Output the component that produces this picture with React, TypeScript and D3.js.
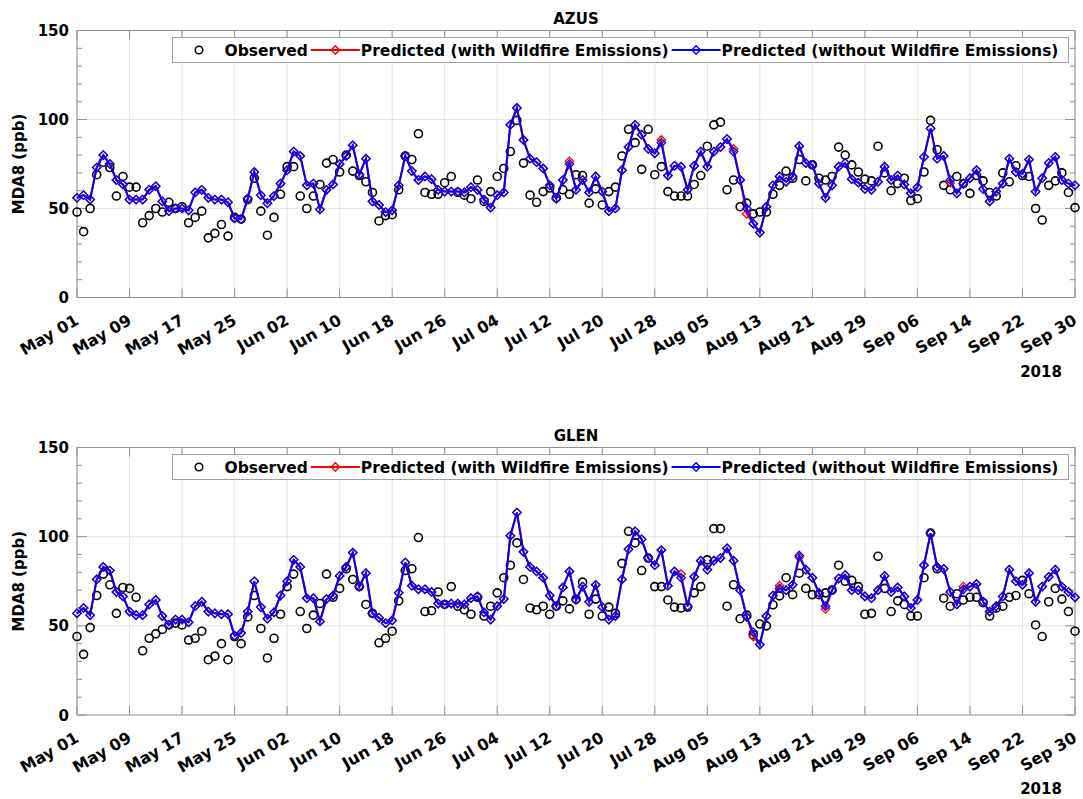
import React from 'react';
import * as d3 from 'd3';

// ---------- data ----------
const startDate = new Date(2018, 4, 1);
const endDate = new Date(2018, 8, 30);
const dates: Date[] = d3.timeDay.range(startDate, d3.timeDay.offset(endDate, 1));
const tickDayIdx = d3.range(0, 153, 8);
const yTicks = [0, 50, 100, 150];
const yearLabel = '2018';
const legendLabels = ['Observed', 'Predicted (with Wildfire Emissions)', 'Predicted (without Wildfire Emissions)'];
const yLabel = 'MDA8 (ppb)';

const azusObs = [48,37,50,69,76,73,57,68,62,62,42,46,50,48,53.5,50,51,42,45,48.5,33.5,36,41,34.5,45,44,55,67,48.5,35,
45,58,73.5,73.5,57,50,57,63.5,75.5,77.5,70.5,80,71,68.5,65,59,43,46,46.5,60.5,79.5,77.5,92,59,58,58,64.5,68,59,57.5,
55.5,66,54,59.5,68,72.5,82,99.5,75.5,57.5,53.5,59.5,61.5,56,60.5,58,69,68.5,53,61,52,59.5,62,79.5,94.5,87,72,94.5,69,73.5,
59.5,57,57,57,63.5,68.5,85,97,98.5,60.5,66,51,53,47,48,48,58,63,71,67,77.5,65.5,74.5,67,66,68,84.5,80,74.5,70.5,
66.5,65.5,85,70,60,64,67,54.5,55.5,70.5,99.5,83,63,60.5,68,64,58.5,68.5,65.5,59,57,70,65,74,68.5,68,50,43.5,63,65.5,
70,59,50.5];
const azusNoFire = [56,57.5,55,73,80,75,66,63.5,55,55,55,60.5,62.5,54,48.5,50,50,49,59,60.5,56,55,55,53.5,44.5,44,55.5,70.5,57.5,53,
57,64,71.5,82,79.5,63,64,49.5,60.5,63.5,75,79.5,85.5,69,78,54,52,48,49,63,79.5,71,66,68,66.5,60.5,59.5,59.5,59.5,59,
62,60.5,55,50.5,57.5,59,97,106.5,88.5,78,76,72.5,63,55.5,66,75,60.5,66,59,68,59.5,48.5,50,71.5,84.5,97,91.5,83.5,81,87,
68.5,74,73.5,60.5,74,82,73.5,82,84.5,89,82,66,50,41.5,36.5,51,63,68,65,68,85,75.5,74.5,64,56,63,73.5,75.5,66.5,64.5,
61,60.5,65,73.5,66,68.5,63.5,58.5,62,79,95,78,79.5,66,58.5,64,67,71.5,61,54,59.5,64,78,70.5,69.5,77.5,59.5,67,75.5,79,
66,64,63];
const azusWithFire = [56,57.5,55,73,80,75,66,63.5,55,55,55,60.5,62.5,54,48.5,50,50,49,59,60.5,56,55,55,53.5,44.5,44,55.5,70.5,57.5,53,
57,64,71.5,82,79.5,63,64,49.5,60.5,63.5,75,79.5,85.5,69,78,54,52,48,49,63,79.5,71,66,68,66.5,60.5,59.5,59.5,59.5,59,
62,60.5,55,50.5,57.5,59,97,106.5,88.5,78,76,72.5,63,55.5,66,76.5,60.5,66,59,68,59.5,48.5,50,71.5,84.5,97,91.5,83.5,81,88.5,
68.5,74,73.5,60.5,74,82,73.5,82,84.5,89,83.5,66,47,41.5,36.5,51,63,68,65,68,85,75.5,74.5,64,56,63,73.5,75.5,66.5,64.5,
61,60.5,65,73.5,66,68.5,63.5,58.5,62,79,95,78,79.5,64.5,58.5,64,67,71.5,61,54,59.5,64,78,70.5,69.5,77.5,59.5,67,75.5,79,
66,64,63];

const glenObs = [44,34,49,67,79,73,57,71.5,71,66,36,43,45.5,48,50.5,51.5,50.5,42,43,47,31,33,40,31,44,40,55,67,48.5,32,
43,56.5,72,79,58,48.5,56,62.5,79,66,71,82,76,72,62,57,40.5,43,47,64,81,82,99.5,58,58.5,69,62,72,61,59,
56.5,66,55.5,61,68.5,77,84,96.5,76,60,59,61,56.5,61,64,59.5,65,74.5,56.5,65,55.5,60.5,57,85,103,96.5,81,88,72,72,
64.5,60.5,60,60.5,68.5,72,87,104.5,104.5,61,73,54,56,45,51,50,61.8,66.8,77,67.5,79.5,71,67.5,67.5,68.5,70,84,75,75.5,72,
56.5,57,89,71,58,64,62,55.5,55.5,77,102,82,65.5,61,68,64.5,66,66,63,55.5,60,61,66,67,75.5,68,50.5,44,63.5,71,
65,58,47];
const glenNoFire = [57,60,56,76,83,81,69,66.5,58,56,56,62,64.5,55.5,50.5,53.5,53.5,52,61,63.5,58,57,56.5,56.5,44.5,46,58,75,60.5,54,
57.5,67,75,87,83,65.5,65.5,52.5,65,67,78,83,91,72,79.5,57,54.5,51.5,53,68.5,85.5,72.5,70.5,70.5,69,62.5,62,62.5,62.5,62,
65.5,66.5,57.5,53.5,61,65,100.5,113.5,91.5,83,80.5,77,67,61,71.5,80.5,64.5,72,63.5,73,60.5,53.5,55.5,76,93,103,98.5,88,84,92.5,
72.5,80.5,77,61,77.5,86.5,81.5,86.5,88,93.5,86.5,70,55,46.5,39.5,55.5,67,71,70,73,89.5,81.5,77,68.5,61,70,76.5,78.5,70,70,
66.5,65.5,70,78,69,71.5,66.5,60,64.5,84,102,83,82,69,62,70.5,72,73.5,63.5,58,61,66.5,81.5,75,73,79.5,63.5,72,77.5,81.5,
72,69,66];
const glenWithFire = [57,60,56,76,83,81,69,66.5,58,56,56,62,64.5,55.5,50.5,53.5,53.5,52,61,63.5,58,57,56.5,56.5,44.5,46,58,75,60.5,54,
57.5,67,75,87,83,65.5,65.5,52.5,65,67,78,83,91,72,79.5,57,54.5,51.5,53,68.5,85.5,72.5,70.5,70.5,69,62.5,62,62.5,62.5,62,
65.5,66.5,57.5,53.5,61,65,100.5,113.5,91.5,83,80.5,77,67,61,71.5,80.5,64.5,72,63.5,73,60.5,53.5,55.5,76,93,103,98.5,88,84,92.5,
72.5,80.5,79,61,77.5,86.5,81.5,86.5,88,93.5,86.5,70,55,44,39.5,55.5,67,72.5,70,73,88.5,81.5,77,68.5,59.5,70,76.5,78.5,70,70,
66.5,65.5,70,78,69,71.5,66.5,60,64.5,84,102,83,82,69,62,72,72,73.5,63.5,58,61,66.5,81.5,75,73,79.5,63.5,72,77.5,81.5,
72,69,66];

const stations = ['AZUS', 'GLEN'];

// ---------- layout ----------
const W = 1083;
const H = 799;
const X0 = 77;
const X1 = 1075;
const FONT = '"DejaVu Sans", sans-serif';
const AXIS_COLOR = '#8f8f8f';
const GRID_COLOR = '#e6e6e6';

const panels = [
  { title: stations[0], obs: azusObs, fire: azusWithFire, noFire: azusNoFire, top: 30.5, bottom: 297.5 },
  { title: stations[1], obs: glenObs, fire: glenWithFire, noFire: glenNoFire, top: 447.5, bottom: 715 },
];

let ctx: CanvasRenderingContext2D | null = null;
function textWidth(t: string, size: number) {
  if (!ctx) ctx = document.createElement('canvas').getContext('2d');
  if (!ctx) return t.length * size * 0.65;
  ctx.font = `bold ${size}px "DejaVu Sans"`;
  return ctx.measureText(t).width;
}

function diamondPath(cx: number, cy: number, r = 4.2) {
  return `M${cx},${cy - r}L${cx + r},${cy}L${cx},${cy + r}L${cx - r},${cy}Z`;
}

function Legend({ top }: { top: number }) {
  const fs = 15.5;
  const left = 172.5;
  const h = 25;
  const cy = top + h / 2;
  const items: React.ReactNode[] = [];
  let s = left + 2;
  legendLabels.forEach((lab, i) => {
    const mx = s + 24.5;
    if (i === 0) {
      items.push(<circle key={'m' + i} cx={mx} cy={cy} r={3.8} fill="none" stroke="#000" strokeWidth={1.5} />);
    } else {
      const col = i === 1 ? '#ff0000' : '#0000ff';
      items.push(
        <g key={'m' + i}>
          <line x1={s} x2={s + 49} y1={cy} y2={cy} stroke={col} strokeWidth={2} />
          <path d={diamondPath(mx, cy)} fill="none" stroke={col} strokeWidth={1.4} />
        </g>
      );
    }
    const tx = s + 50;
    items.push(
      <text key={'t' + i} x={tx} y={cy + 5.5} fontSize={fs} fontWeight="bold" fontFamily={FONT} fill="#000">
        {lab}
      </text>
    );
    s = tx + textWidth(lab, fs) + 3;
  });
  const right = s + 7;
  return (
    <g>
      <rect x={left} y={top} width={right - left} height={h} fill="#fff" stroke="#a0a0a0" strokeWidth={1} />
      {items}
    </g>
  );
}

function Panel({ p }: { p: (typeof panels)[number] }) {
  const x = d3.scaleTime().domain([startDate, endDate]).range([X0, X1]);
  const y = d3.scaleLinear().domain([0, 150]).range([p.bottom, p.top]);
  const line = d3
    .line<number>()
    .x((_, i) => x(dates[i]))
    .y((v) => y(v));
  const tickDates = tickDayIdx.map((i) => dates[i]);
  const fmt = d3.timeFormat('%b %d');
  const minor = d3.range(0, 151, 10);
  const cx = (X0 + X1) / 2;
  const cyMid = (p.top + p.bottom) / 2;
  return (
    <g>
      {/* grid */}
      {tickDates.map((d, i) => (
        <line key={'gx' + i} x1={x(d)} x2={x(d)} y1={p.top} y2={p.bottom} stroke={GRID_COLOR} strokeWidth={1} />
      ))}
      {[50, 100].map((v) => (
        <line key={'gy' + v} x1={X0} x2={X1} y1={y(v)} y2={y(v)} stroke={GRID_COLOR} strokeWidth={1} />
      ))}
      {/* axis box */}
      <rect x={X0} y={p.top} width={X1 - X0} height={p.bottom - p.top} fill="none" stroke={AXIS_COLOR} strokeWidth={1} />
      {/* x ticks */}
      {tickDates.map((d, i) => (
        <g key={'xt' + i}>
          <line x1={x(d)} x2={x(d)} y1={p.bottom} y2={p.bottom - 9} stroke={AXIS_COLOR} />
          <line x1={x(d)} x2={x(d)} y1={p.top} y2={p.top + 9} stroke={AXIS_COLOR} />
          <text
            transform={`translate(${x(d) + 3},${p.bottom + 26}) rotate(-30)`}
            textAnchor="end"
            fontSize={16}
            fontWeight="bold"
            fontFamily={FONT}
            fill="#000"
          >
            {fmt(d)}
          </text>
        </g>
      ))}
      {/* y ticks */}
      {minor.map((v) => {
        const len = v % 50 === 0 ? 10 : 5;
        return (
          <g key={'yt' + v}>
            <line x1={X0} x2={X0 + len} y1={y(v)} y2={y(v)} stroke={AXIS_COLOR} />
            <line x1={X1} x2={X1 - len} y1={y(v)} y2={y(v)} stroke={AXIS_COLOR} />
          </g>
        );
      })}
      {yTicks.map((v) => (
        <text
          key={'yl' + v}
          x={X0 - 8}
          y={y(v) + 5.5}
          textAnchor="end"
          fontSize={15}
          fontWeight="bold"
          fontFamily={FONT}
          fill="#000"
        >
          {v}
        </text>
      ))}
      <text
        transform={`translate(24,${cyMid}) rotate(-90)`}
        textAnchor="middle"
        fontSize={15}
        fontWeight="bold"
        fontFamily={FONT}
        fill="#000"
      >
        {yLabel}
      </text>
      <text x={1041} y={p.bottom + 79} textAnchor="middle" fontSize={15} fontWeight="bold" fontFamily={FONT} fill="#000">
        {yearLabel}
      </text>
      <text x={cx} y={p.top - 7} textAnchor="middle" fontSize={15} fontWeight="bold" fontFamily={FONT} fill="#000">
        {p.title}
      </text>
      {/* series */}
      {p.obs.map((v, i) => (
        <circle key={'o' + i} cx={x(dates[i])} cy={y(v)} r={4} fill="none" stroke="#000" strokeWidth={1.6} />
      ))}
      <path d={line(p.fire) || ''} fill="none" stroke="#ff0000" strokeWidth={2} />
      {p.fire.map((v, i) => (
        <path key={'f' + i} d={diamondPath(x(dates[i]), y(v))} fill="none" stroke="#ff0000" strokeWidth={1.3} />
      ))}
      <path d={line(p.noFire) || ''} fill="none" stroke="#0000ff" strokeWidth={2} />
      {p.noFire.map((v, i) => (
        <path key={'n' + i} d={diamondPath(x(dates[i]), y(v))} fill="none" stroke="#0000ff" strokeWidth={1.3} />
      ))}
      <Legend top={p.top + 7} />
    </g>
  );
}

export default function App() {
  return (
    <div style={{ position: 'fixed', left: 0, top: 0 }}>
      <svg width={W} height={H} style={{ display: 'block', background: '#fff' }}>
        <rect width={W} height={H} fill="#fff" />
        {panels.map((p, i) => (
          <Panel key={i} p={p} />
        ))}
      </svg>
    </div>
  );
}
